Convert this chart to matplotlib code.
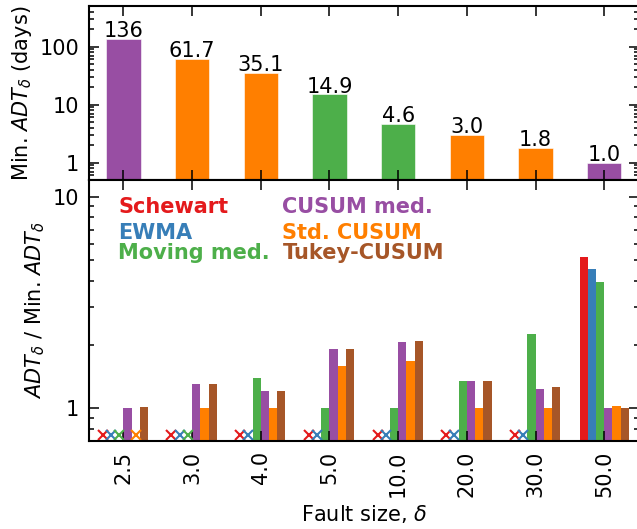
import numpy as np
import matplotlib
matplotlib.use("Agg")
import matplotlib.pyplot as plt

# ---------------- data ----------------
fault_sizes = ['2.5', '3.0', '4.0', '5.0', '10.0', '20.0', '30.0', '50.0']
min_adt = [136, 61.7, 35.1, 14.9, 4.6, 3.0, 1.8, 1.0]
min_adt_labels = ['136', '61.7', '35.1', '14.9', '4.6', '3.0', '1.8', '1.0']
best_method = ['CUSUM med.', 'Std. CUSUM', 'Std. CUSUM', 'Moving med.',
               'Moving med.', 'Std. CUSUM', 'Std. CUSUM', 'CUSUM med.']

methods = ['Schewart', 'EWMA', 'Moving med.', 'CUSUM med.', 'Std. CUSUM', 'Tukey-CUSUM']
nan = np.nan
ratio_schewart = [nan, nan, nan, nan, nan, nan, nan, 5.2]
ratio_ewma = [nan, nan, nan, nan, nan, nan, nan, 4.55]
ratio_moving_med = [nan, nan, 1.39, 1.0, 1.0, 1.34, 2.25, 3.97]
ratio_cusum_med = [1.0, 1.30, 1.20, 1.90, 2.06, 1.34, 1.23, 1.0]
ratio_std_cusum = [nan, 1.0, 1.0, 1.58, 1.67, 1.0, 1.0, 1.02]
ratio_tukey_cusum = [1.014, 1.306, 1.20, 1.915, 2.09, 1.34, 1.26, 1.0]
ratios = [ratio_schewart, ratio_ewma, ratio_moving_med,
          ratio_cusum_med, ratio_std_cusum, ratio_tukey_cusum]

colors = {'Schewart': '#e41a1c', 'EWMA': '#377eb8', 'Moving med.': '#4daf4a',
          'CUSUM med.': '#984ea3', 'Std. CUSUM': '#ff7f00', 'Tukey-CUSUM': '#a65628'}

# ---------------- figure ----------------
plt.rcParams['font.family'] = ['DejaVu Sans']
plt.rcParams['font.size'] = 15

fig = plt.figure(figsize=(6.37, 5.29), dpi=100)
W, H = 637, 529
left, right = 89 / W, 638.6 / W
ax1 = fig.add_axes([left, 1 - 180 / H, right - left, (180 - 6) / H])
ax2 = fig.add_axes([left, 1 - 441 / H, right - left, (441 - 180) / H])

x = np.arange(len(fault_sizes))

# top panel
ax1.set_yscale('log')
bars = ax1.bar(x, min_adt, width=0.5, color=[colors[m] for m in best_method],
               edgecolor='white', linewidth=0.4)
ax1.bar_label(bars, labels=min_adt_labels, padding=-1.5, fontsize=15)
ax1.set_ylim(0.5, 500)
ax1.set_xlim(-0.5, len(x) - 0.5)
ax1.set_yticks([1, 10, 100], ['1', '10', '100'])
ax1.set_xticks(x)
ax1.set_xticklabels([])
ax1.set_ylabel(r'Min. $ADT_\delta$ (days)')

# bottom panel
ax2.set_yscale('log')
w = 0.12
for i, (m, vals) in enumerate(zip(methods, ratios)):
    pos = x + (i - 2.5) * w
    vals = np.array(vals, dtype=float)
    ok = ~np.isnan(vals)
    ax2.bar(pos[ok], vals[ok], width=w, color=colors[m], linewidth=0)
    ax2.plot(pos[~ok], np.full((~ok).sum(), 0.75), 'x', color=colors[m],
             markersize=7, markeredgewidth=1.5, clip_on=False)
ax2.set_ylim(0.7, 12)
ax2.set_xlim(-0.5, len(x) - 0.5)
ax2.set_yticks([1, 10], ['1', '10'])
ax2.set_xticks(x, fault_sizes, rotation=90)
ax2.set_ylabel(r'$ADT_\delta$ / Min. $ADT_\delta$')
ax2.set_xlabel(r'Fault size, $\delta$')

# legend-like colored labels
col_x = [0.053, 0.352]
row_y = [0.872, 0.773, 0.697]
for i, m in enumerate(methods):
    c, r = divmod(i, 3)
    ax2.text(col_x[c], row_y[r], m, transform=ax2.transAxes, color=colors[m],
             fontweight='bold', fontsize=15, ha='left', va='baseline')

for ax in (ax1, ax2):
    for s in ax.spines.values():
        s.set_linewidth(1.5)
    ax.tick_params(which='both', direction='in', top=True, right=True,
                   width=1.1)
    ax.tick_params(which='major', length=7, pad=7)
    ax.tick_params(which='minor', length=3.5)
    ax.tick_params(axis='x', which='minor', top=False, bottom=False)

fig.savefig('out.png', dpi=100)
